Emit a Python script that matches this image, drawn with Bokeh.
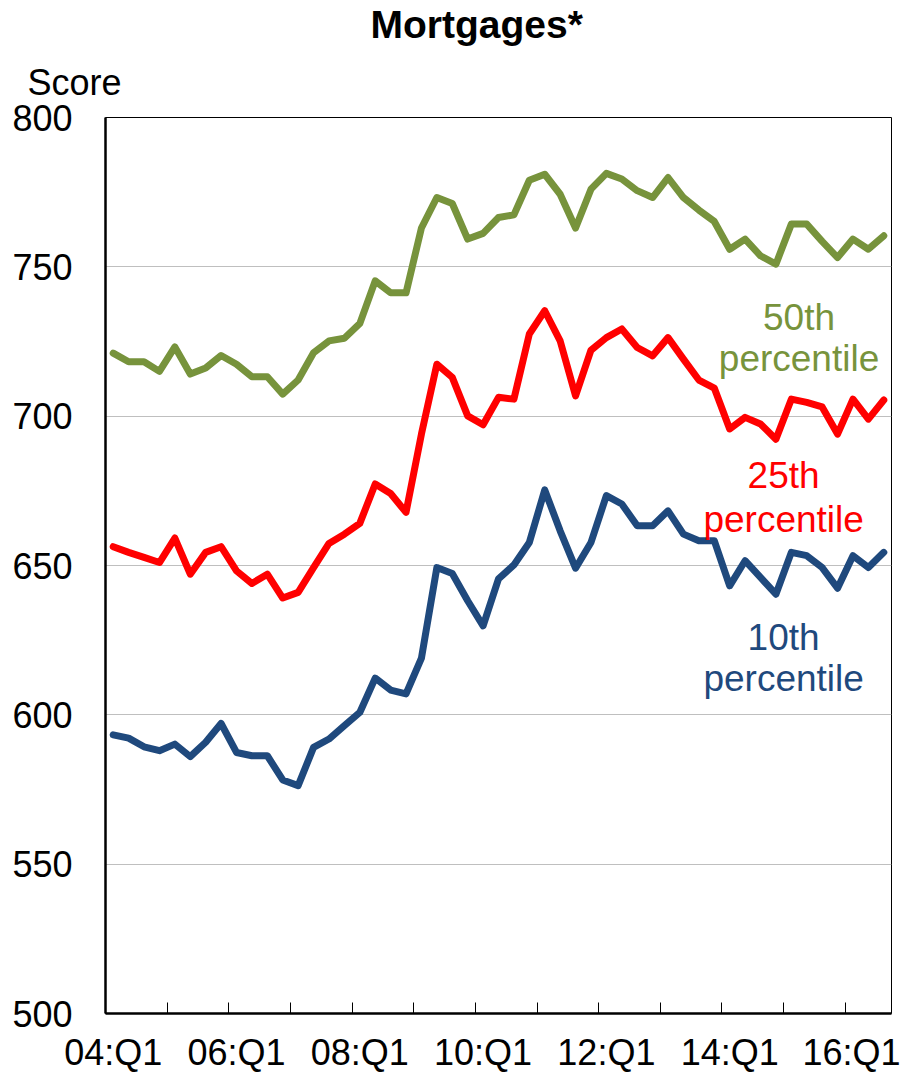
from bokeh.plotting import figure
from bokeh.models import FixedTicker, Label, Range1d, Title
from bokeh.embed import file_html
from bokeh.resources import INLINE

# ---- data ----
quarters = [f"{y:02d}:Q{q}" for y in range(4, 17) for q in range(1, 5)][:51]

p50 = [721.1, 718.2, 718.2, 715.0, 723.2, 714.1, 716.1, 720.3, 717.4, 713.2,
       713.2, 707.4, 712.1, 721.2, 725.2, 726.1, 731.0, 745.3, 741.3, 741.3,
       763.0, 773.2, 771.2, 759.3, 761.2, 766.5, 767.4, 779.0, 781.0, 774.3,
       763.0, 776.0, 781.3, 779.4, 775.5, 773.2, 779.9, 773.2, 769.0, 765.2,
       755.9, 759.3, 753.7, 750.9, 764.3, 764.3, 758.5, 753.1, 759.3, 755.9,
       760.4]
p25 = [656.3, 654.4, 652.7, 651.0, 659.2, 647.1, 654.4, 656.3, 648.2, 644.0,
       647.1, 639.1, 641.0, 649.3, 657.4, 660.5, 664.1, 677.3, 674.1, 667.8,
       694.0, 717.4, 713.0, 700.1, 697.1, 706.3, 705.7, 727.5, 735.3, 725.2,
       706.8, 722.1, 726.3, 729.2, 723.0, 720.2, 726.3, 719.1, 712.1, 709.4,
       695.7, 699.6, 697.4, 692.3, 705.7, 704.6, 703.1, 694.0, 705.7, 699.0,
       705.4]
p10 = [593.3, 592.2, 589.3, 588.0, 590.2, 586.0, 590.8, 597.1, 587.4, 586.3,
       586.3, 578.2, 576.3, 589.1, 591.9, 596.4, 600.8, 612.3, 608.3, 607.0,
       619.0, 649.3, 647.3, 638.2, 629.8, 645.5, 650.2, 657.7, 675.3, 661.6,
       649.1, 657.7, 673.4, 670.6, 663.3, 663.3, 668.3, 660.5, 658.3, 658.3,
       643.2, 651.6, 646.0, 640.4, 654.4, 653.3, 649.3, 642.4, 653.3, 649.3,
       654.4]

series_names = ["50th\npercentile", "25th\npercentile", "10th\npercentile"]
series_colors = ["#77933C", "#FF0000", "#1F497D"]
y_ticks = [500, 550, 600, 650, 700, 750, 800]

FONT = "Liberation Sans"

x = list(range(len(quarters)))

p = figure(width=900, height=1075, output_backend="svg", toolbar_location=None,
           x_range=Range1d(-0.5, len(quarters) - 0.5), y_range=Range1d(500, 800),
           min_border_left=105, min_border_right=9, min_border_top=117,
           min_border_bottom=62)

# main title (outer) and "Score" unit label (nearest the frame)
p.title.text = "Mortgages*"
p.title.align = "left"
p.title.offset = 265
p.title.text_font = FONT
p.title.text_font_size = "39px"
p.title.text_font_style = "bold"
p.title.text_color = "black"
p.title.standoff = 0
p.add_layout(Title(text="Score", align="left", offset=-78, text_font=FONT,
                   text_font_size="36px", text_font_style="normal",
                   text_color="black", standoff=29), "above")

p.outline_line_color = "black"
p.outline_line_width = 1
p.background_fill_color = "white"
p.border_fill_color = "white"

for vals, col in zip([p50, p25, p10], series_colors):
    p.line(x, vals, line_color=col, line_width=7, line_join="round", line_cap="round")

# x axis
label_idx = list(range(0, len(quarters), 8))
xt = FixedTicker(ticks=label_idx,
                 minor_ticks=[i - 0.5 for i in range(0, len(quarters), 4)])
p.xaxis.ticker = xt
p.xaxis.major_label_overrides = {i: quarters[i] for i in label_idx}
p.xaxis.major_tick_line_color = None
p.xaxis.major_tick_out = 0
p.xaxis.major_tick_in = 0
p.xaxis.minor_tick_line_color = "black"
p.xaxis.minor_tick_line_width = 1
p.xaxis.minor_tick_in = 11
p.xaxis.minor_tick_out = 0
p.xaxis.axis_line_color = "black"
p.xaxis.axis_line_width = 2.5
p.xaxis.major_label_standoff = 18
p.xaxis.major_label_text_font = FONT
p.xaxis.major_label_text_font_size = "36px"
p.xaxis.major_label_text_color = "black"

# y axis
p.yaxis.ticker = FixedTicker(ticks=y_ticks)
p.yaxis.major_tick_line_color = None
p.yaxis.minor_tick_line_color = None
p.yaxis.major_tick_out = 0
p.yaxis.major_tick_in = 0
p.yaxis.axis_line_color = "black"
p.yaxis.axis_line_width = 2.5
p.yaxis.major_label_standoff = 33
p.yaxis.major_label_text_font = FONT
p.yaxis.major_label_text_font_size = "36px"
p.yaxis.major_label_text_color = "black"

p.xgrid.grid_line_color = None
p.ygrid.grid_line_color = "#BFBFBF"
p.ygrid.grid_line_width = 1

# series labels
label_pos = [(44.5, 733.0, 719.2), (43.5, 680.0, 665.5), (43.5, 625.9, 612.1)]
for name, col, (lx, ly1, ly2) in zip(series_names, series_colors, label_pos):
    l1, l2 = name.split("\n")
    for txt, ly in ((l1, ly1), (l2, ly2)):
        p.add_layout(Label(x=lx, y=ly, text=txt, text_font=FONT,
                           text_font_size="37px", text_color=col,
                           text_align="center", text_baseline="alphabetic"))

open("out.html", "w").write(file_html(p, INLINE))
